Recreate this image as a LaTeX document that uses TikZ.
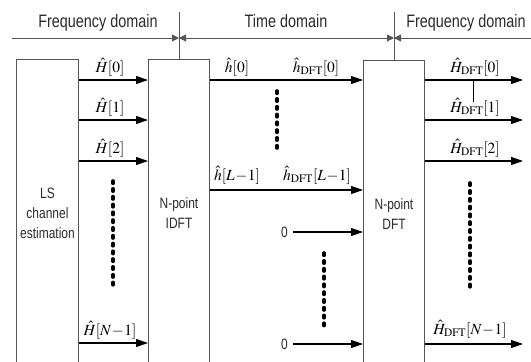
\documentclass[tikz,border=0pt]{standalone}
\usepackage{mathptmx}
\usepackage[no-math]{fontspec}
\setmainfont{Liberation Sans}
\newfontfamily\condfont{Liberation Sans}[FakeStretch=0.8]
\usetikzlibrary{arrows.meta}
\definecolor{boxgray}{HTML}{555555}
\definecolor{txtgray}{HTML}{2A2A2A}
\tikzset{htip/.tip={Triangle[length=7pt,width=7pt]}}
\begin{document}
\begin{tikzpicture}[x=1pt,y=-1pt,
  blockbox/.style={draw=boxgray, line width=1pt, anchor=north west, minimum width=61pt, minimum height=307pt, inner sep=0pt,
    align=center, text=txtgray, font=\condfont\fontsize{15}{20}\selectfont},
  hdr/.style={anchor=base, text=txtgray, font=\condfont\fontsize{18}{20}\selectfont, inner sep=0pt},
  lab/.style={anchor=base, inner sep=0pt, font=\fontsize{15.5}{18}\selectfont},
  zero/.style={anchor=base east, inner sep=0pt, text=txtgray, font=\condfont\fontsize{15}{18}\selectfont},
  arr/.style={line width=1.1pt, -{Triangle[length=12pt,width=8pt]}},
  harr/.style={line width=1pt, draw=boxgray},
  dotcol/.style={line width=3.6pt, line cap=round, dash pattern=on 2.4pt off 5.4pt}
]
\useasboundingbox (0,0) rectangle (531,362);

% blocks
\node[blockbox, minimum width=62pt] (ls) at (16,59) {LS\\channel\\estimation};
\node[blockbox] (idft) at (148,59) {N-point\\IDFT};
\node[blockbox] (dft) at (363,60) {N-point\\DFT};

% header
\coordinate (hl) at (12,38);
\coordinate (hr) at (531,38);
\coordinate (t1) at (idft.north |- 0,12);
\coordinate (t2) at (dft.north |- 0,12);
\draw[harr] (idft.north) -- (t1);
\draw[harr] (dft.north) -- (t2);
\draw[harr, -{htip}] (hl) -- (hl -| t1);
\draw[harr, {htip}-{htip}] (hl -| t1) -- (hl -| t2);
\draw[harr, {htip}-] (hl -| t2) -- (hr);
\node[hdr] (f1) at (98,27) {Frequency domain};
\node[hdr] (td) at (286,27) {Time domain};
\node[hdr] (f2) at (466,27) {Frequency domain};

% left arrows
\foreach \y/\t in {80/0,120/1,161/2}{
  \draw[arr] (ls.east |- 0,\y) -- (idft.west |- 0,\y);
  \node[lab] at (110,\y-8) {$\hat{H}[\t]$};
}
\draw[arr] (ls.east |- 0,343) -- (idft.west |- 0,343);
\node[lab] (hn) at (110,335) {$\hat{H}[N\!-\!1]$};

% middle arrows
\draw[arr] (idft.east |- 0,80) -- (dft.west |- 0,80);
\node[lab] (h0) at (237,72) {$\hat{h}[0]$};
\node[lab] (hd0) at (316,72) {$\hat{h}_{\mathrm{DFT}}[0]$};
\draw[arr] (idft.east |- 0,190) -- (dft.west |- 0,190);
\node[lab] (hl1) at (237,180) {$\hat{h}[L\!-\!1]$};
\node[lab] (hdl1) at (317,180) {$\hat{h}_{\mathrm{DFT}}[L\!-\!1]$};

% zeros
\node[zero] (z1) at (288,237) {0};
\node[zero] (z2) at (288,349) {0};
\draw[arr] (z1.east |- 0,232) ++(5,0) -- (dft.west |- 0,232);
\draw[arr] (z2.east |- 0,344) ++(5,0) -- (dft.west |- 0,344);

% right arrows
\coordinate (rend) at (523,0);
\foreach \y/\t in {80/0,120/1,161/2}{
  \draw[arr] (dft.east |- 0,\y) -- (rend |- 0,\y);
  \node[lab] at (475,\y-8) {$\hat{H}_{\mathrm{DFT}}[\t]$};
}
\draw[arr] (dft.east |- 0,344) -- (rend |- 0,344);
\node[lab] (hdn) at (470,334) {$\hat{H}_{\mathrm{DFT}}[N\!-\!1]$};
\draw[line width=0.8pt] (473,80) -- (473,102);

% dot columns
\draw[dotcol] (113,181) -- (113,290);
\draw[dotcol] (277,91) -- (277,150);
\draw[dotcol] (324,253) -- (324,327);
\draw[dotcol] (470,183) -- (470,290);
\end{tikzpicture}
\end{document}
